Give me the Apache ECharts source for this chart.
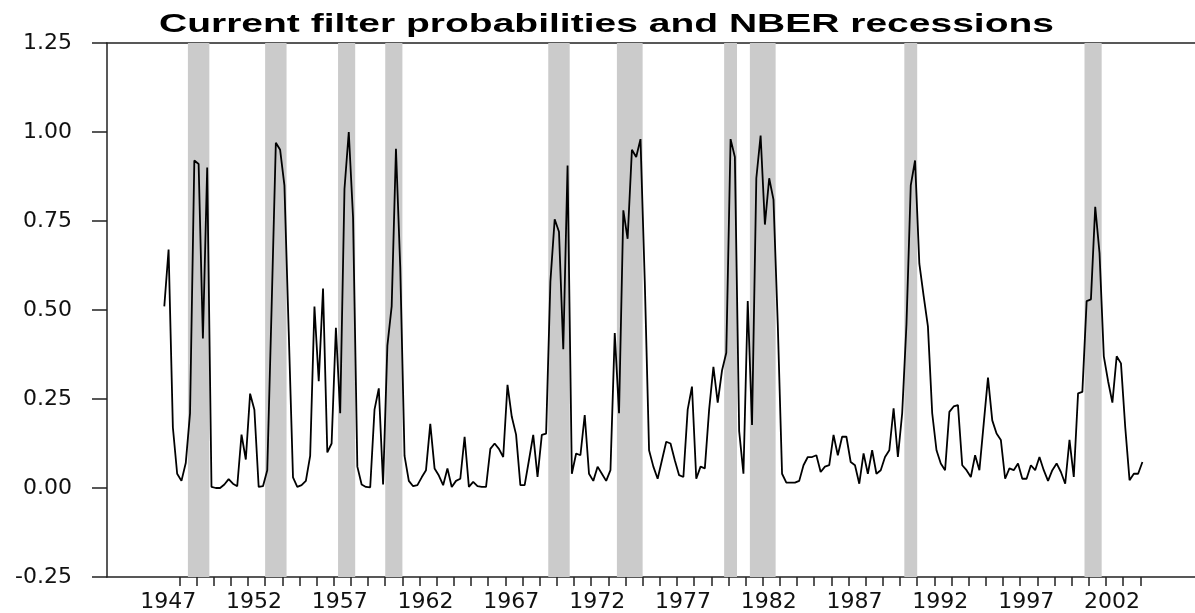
<!DOCTYPE html>
<html><head><meta charset="utf-8">
<script src="https://cdn.jsdelivr.net/npm/echarts@6/dist/echarts.min.js"></script>
<style>html,body{margin:0;padding:0;background:#fff}#c{width:1195px;height:613px}</style>
</head><body><div id="c"></div>
<script>
// ---- data ----
const titleText = 'Current filter probabilities and NBER recessions';
const startYear = 1947, startQuarter = 2; // first observation 1947Q2, quarterly
const probs = [
 0.51,0.67,0.17,0.04,0.02,0.07,0.21,0.92,0.91,0.42,
 0.90,0.003,0.0,0.0,0.01,0.025,0.012,0.005,0.15,0.08,
 0.265,0.22,0.003,0.005,0.05,0.50,0.97,0.95,0.85,0.44,
 0.03,0.003,0.008,0.02,0.09,0.51,0.30,0.56,0.10,0.125,
 0.45,0.21,0.84,1.00,0.76,0.06,0.01,0.003,0.002,0.22,
 0.28,0.01,0.40,0.51,0.953,0.62,0.09,0.02,0.005,0.008,
 0.03,0.05,0.18,0.055,0.035,0.008,0.055,0.003,0.02,0.026,
 0.144,0.003,0.017,0.005,0.003,0.003,0.11,0.125,0.11,0.087,
 0.29,0.20,0.15,0.008,0.008,0.078,0.149,0.031,0.149,0.153,
 0.58,0.755,0.72,0.39,0.906,0.04,0.097,0.092,0.205,0.04,
 0.02,0.06,0.04,0.02,0.05,0.435,0.21,0.78,0.70,0.95,
 0.93,0.98,0.58,0.106,0.06,0.026,0.078,0.13,0.125,0.078,
 0.036,0.031,0.22,0.285,0.026,0.06,0.055,0.22,0.34,0.24,
 0.33,0.38,0.98,0.93,0.16,0.04,0.525,0.177,0.87,0.99,
 0.74,0.87,0.81,0.46,0.04,0.015,0.015,0.015,0.02,0.064,
 0.087,0.087,0.092,0.045,0.06,0.064,0.149,0.092,0.144,0.144,
 0.073,0.064,0.012,0.097,0.04,0.106,0.04,0.05,0.087,0.106,
 0.224,0.087,0.21,0.46,0.85,0.92,0.63,0.54,0.454,0.21,
 0.106,0.069,0.05,0.214,0.229,0.233,0.064,0.05,0.031,0.092,
 0.05,0.18,0.31,0.19,0.153,0.135,0.026,0.055,0.05,0.069,
 0.026,0.026,0.064,0.05,0.087,0.05,0.02,0.05,0.069,0.045,
 0.012,0.135,0.031,0.266,0.27,0.525,0.53,0.79,0.66,0.37,
 0.30,0.24,0.37,0.35,0.17,0.022,0.04,0.04,0.073
];
const recessionStart = ['1948Q4','1953Q2','1957Q3','1960Q2','1969Q4','1973Q4','1980Q1','1981Q3','1990Q3','2001Q1'];
const recessionEnd   = ['1949Q4','1954Q2','1958Q2','1961Q1','1970Q4','1975Q1','1980Q3','1982Q4','1991Q1','2001Q4'];
const tickYears = []; for (let y = 1948; y <= 2004; y++) tickYears.push(y);
const labelYears = [1947,1952,1957,1962,1967,1972,1977,1982,1987,1992,1997,2002];
const yMin = -0.25, yMax = 1.25, yStep = 0.25;

// ---- build ----
function qStart(s){ const y = +s.slice(0,4), q = +s.slice(5); return y + (q-1)/4; }
function qEnd(s){ return qStart(s) + 0.25; }
const t0 = startYear + (startQuarter-1)/4;
const lineData = probs.map((v,i) => [t0 + i/4 + 0.125, v]);
const areas = recessionStart.map((s,k) => [{xAxis: qStart(s)}, {xAxis: qEnd(recessionEnd[k])}]);

const W = 1195, gridLeft = 107, gridRight = 0, pxPerYear = 17.16;
const xMin = t0 + 0.125 - (164.3 - gridLeft)/pxPerYear;
const xMax = xMin + (W - gridRight - gridLeft)/pxPerYear;

const font = 'DejaVu Sans';
const axisColor = '#222';
const chart = echarts.init(document.getElementById('c'), null, {renderer:'canvas'});
chart.setOption({
  animation:false,
  backgroundColor:'#fff',
  graphic:[{type:'text', x:159, y:13, scaleX:1.56, scaleY:1,
    style:{text:titleText, font:'bold 25px "Liberation Sans"', fill:'#000', textAlign:'left', textVerticalAlign:'top'}}],
  grid:{left:gridLeft, right:gridRight, top:43, bottom:35, show:false},
  xAxis:[{
    type:'value', min:xMin, max:xMax,
    splitLine:{show:false},
    axisLine:{show:true, onZero:false, lineStyle:{color:axisColor, width:1.5}},
    axisTick:{show:true, length:9, lineStyle:{color:axisColor, width:1.5}, customValues: tickYears.map(y => y + 0.25)},
    axisLabel:{show:true, customValues: labelYears.map(y => y + 0.6), formatter: v => String(Math.floor(v)),
      fontFamily:font, fontSize:22, color:'#111', margin:14, hideOverlap:false}
  },{
    type:'value', min:xMin, max:xMax, position:'top',
    splitLine:{show:false}, axisTick:{show:false}, axisLabel:{show:false},
    axisLine:{show:true, onZero:false, lineStyle:{color:axisColor, width:1.5}}
  }],
  yAxis:{
    type:'value', min:yMin, max:yMax, interval:yStep,
    splitLine:{show:false},
    axisLine:{show:true, onZero:false, lineStyle:{color:axisColor, width:1.5}},
    axisTick:{show:true, length:15, lineStyle:{color:axisColor, width:1.5}},
    axisLabel:{fontFamily:font, fontSize:22, color:'#111', margin:35, formatter: v => v.toFixed(2)}
  },
  series:[
    {type:'line', data:[], z:1, silent:true,
     markArea:{silent:true, itemStyle:{color:'#cbcbcb'}, data:areas}},
    {type:'line', data:lineData, z:3, showSymbol:false, symbol:'none',
     lineStyle:{color:'#000', width:1.8}}
  ]
});
</script></body></html>
